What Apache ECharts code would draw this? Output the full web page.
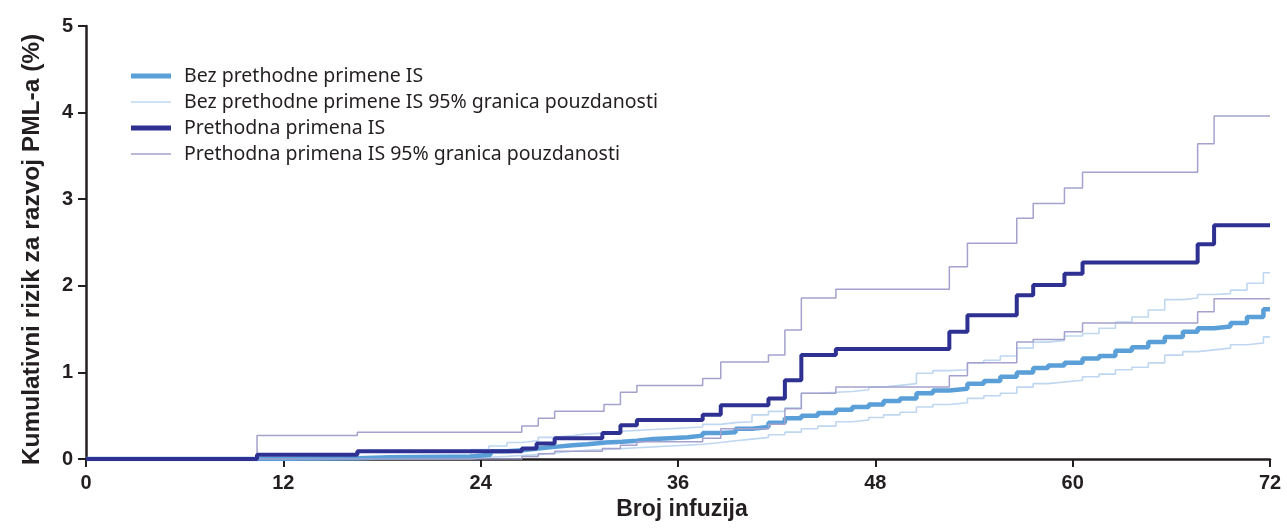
<!DOCTYPE html>
<html><head><meta charset="utf-8">
<script src="https://cdn.jsdelivr.net/npm/echarts@6/dist/echarts.min.js"></script>
<style>html,body{margin:0;padding:0;background:#fff}#c{width:1287px;height:529px}</style>
</head><body><div id="c"></div>
<script>
// x-axis ticks and y-axis ticks
const xTicks = [0, 12, 24, 36, 48, 60, 72];
const yTicks = [0, 1, 2, 3, 4, 5];
const legendNames = [
  'Bez prethodne primene IS',
  'Bez prethodne primene IS 95% granica pouzdanosti',
  'Prethodna primena IS',
  'Prethodna primena IS 95% granica pouzdanosti'
];
// Bez prethodne primene IS (step points: [infusion, cumulative risk %])
const bez = [[0,0],[10.4,0.01],[16.5,0.02],[18.5,0.03],[23.4,0.05],[24.6,0.09],[25.6,0.10],[26.5,0.12],[27.5,0.14],[28.5,0.16],[29.6,0.17],[30.5,0.19],[31.6,0.20],[32.6,0.21],[33.5,0.23],[34.5,0.24],[35.5,0.25],[36.6,0.27],[37.5,0.30],[38.6,0.31],[39.5,0.35],[40.5,0.37],[41.5,0.42],[42.5,0.47],[43.5,0.50],[44.5,0.53],[45.6,0.57],[46.6,0.60],[47.6,0.63],[48.5,0.67],[49.5,0.70],[50.5,0.76],[51.5,0.79],[52.5,0.81],[53.6,0.87],[54.6,0.90],[55.6,0.95],[56.6,1.00],[57.6,1.05],[58.5,1.08],[59.5,1.11],[60.6,1.16],[61.6,1.19],[62.6,1.25],[63.6,1.29],[64.6,1.35],[65.6,1.41],[66.7,1.47],[67.6,1.51],[68.6,1.53],[69.6,1.57],[70.6,1.64],[71.6,1.73],[72,1.73]];
const bezUpper = [[0,0],[10.4,0.02],[16.5,0.04],[23.4,0.11],[24.5,0.15],[25.6,0.19],[26.5,0.21],[27.5,0.25],[28.5,0.27],[29.6,0.29],[30.5,0.30],[31.6,0.32],[32.6,0.33],[33.5,0.34],[34.5,0.35],[35.5,0.36],[36.6,0.37],[37.5,0.40],[38.6,0.42],[39.5,0.43],[40.5,0.51],[41.5,0.55],[42.5,0.59],[43.5,0.76],[44.5,0.77],[45.6,0.78],[46.6,0.80],[47.6,0.83],[48.5,0.85],[49.5,0.87],[50.5,0.99],[51.5,1.02],[52.5,1.03],[53.6,1.11],[54.6,1.14],[55.6,1.19],[56.6,1.28],[57.6,1.35],[58.5,1.37],[59.5,1.42],[60.6,1.45],[61.6,1.51],[62.6,1.58],[63.6,1.64],[64.6,1.72],[65.6,1.84],[66.7,1.86],[67.6,1.90],[68.6,1.91],[69.6,1.95],[70.6,2.03],[71.6,2.15],[72,2.15]];
const bezLower = [[0,0],[23.4,0.02],[24.5,0.03],[25.6,0.04],[26.5,0.05],[27.5,0.07],[28.5,0.09],[29.6,0.10],[30.5,0.11],[31.6,0.12],[32.6,0.13],[33.5,0.14],[34.5,0.15],[35.5,0.16],[36.6,0.17],[37.5,0.19],[38.6,0.21],[39.5,0.23],[40.5,0.25],[41.5,0.28],[42.5,0.31],[43.5,0.35],[44.5,0.38],[45.6,0.43],[46.6,0.45],[47.6,0.48],[48.5,0.51],[49.5,0.54],[50.5,0.60],[51.5,0.63],[52.5,0.65],[53.6,0.70],[54.6,0.73],[55.6,0.76],[56.6,0.83],[57.6,0.87],[58.5,0.89],[59.5,0.91],[60.6,0.95],[61.6,0.98],[62.6,1.03],[63.6,1.06],[64.6,1.11],[65.6,1.20],[66.7,1.24],[67.6,1.26],[68.6,1.28],[69.6,1.32],[70.6,1.34],[71.6,1.41],[72,1.41]];
// Prethodna primena IS
const pre = [[0,0],[10.4,0.05],[16.5,0.09],[26.5,0.12],[27.4,0.18],[28.5,0.24],[31.4,0.30],[32.5,0.39],[33.5,0.45],[37.5,0.51],[38.6,0.62],[41.5,0.70],[42.5,0.91],[43.5,1.20],[45.6,1.27],[52.5,1.47],[53.6,1.66],[56.6,1.89],[57.6,2.01],[59.5,2.14],[60.6,2.27],[67.6,2.48],[68.6,2.70],[72,2.70]];
const preUpper = [[0,0],[10.4,0.27],[16.5,0.31],[26.5,0.38],[27.5,0.47],[28.5,0.55],[31.5,0.63],[32.5,0.77],[33.5,0.85],[37.5,0.93],[38.6,1.12],[41.5,1.20],[42.5,1.49],[43.5,1.86],[45.6,1.96],[52.5,2.22],[53.6,2.49],[56.6,2.78],[57.6,2.95],[59.5,3.13],[60.6,3.31],[67.6,3.64],[68.6,3.96],[72,3.96]];
const preLower = [[0,0],[26.5,0.03],[27.5,0.06],[28.5,0.09],[31.4,0.12],[32.5,0.16],[33.5,0.20],[37.5,0.24],[38.6,0.35],[41.5,0.40],[42.5,0.58],[43.5,0.76],[45.6,0.83],[52.5,0.96],[53.6,1.11],[56.6,1.35],[57.6,1.38],[59.5,1.47],[60.6,1.57],[67.6,1.70],[68.6,1.85],[72,1.85]];

const cLight = '#bfd7f0', cBez = '#5a9fd8', cPre = '#2e3192', cPreCI = '#a4a2cd';
const ink = '#231f20';
function line(name, data, color, width, z) {
  return { name, type: 'line', step: 'end', data, symbol: 'none', showSymbol: false,
    lineStyle: { color, width }, itemStyle: { color }, z, animation: false };
}
const thickIcon = 'path://M0,0H40V5H0Z';
const thinIcon = 'path://M0,0H40V1.6H0Z';
const chart = echarts.init(document.getElementById('c'), null, { renderer: 'canvas' });
chart.setOption({
  animation: false,
  grid: { left: 86, right: 17, top: 26, bottom: 70, containLabel: false },
  legend: {
    data: [
      { name: legendNames[0], icon: thickIcon },
      { name: legendNames[1], icon: thinIcon },
      { name: legendNames[2], icon: thickIcon },
      { name: legendNames[3], icon: thinIcon }
    ],
    orient: 'vertical', left: 126, top: 60,
    itemWidth: 40, itemHeight: 14, itemGap: 4, symbolKeepAspect: true,
    textStyle: { fontFamily: 'Noto Sans', fontSize: 19.5, lineHeight: 22, color: ink, padding: [0, 0, 0, 8] },
    selectedMode: false
  },
  xAxis: {
    type: 'value', min: xTicks[0], max: xTicks[xTicks.length - 1], interval: 12,
    name: 'Broj infuzija', nameLocation: 'middle', nameGap: 39,
    nameTextStyle: { fontFamily: 'Liberation Sans', fontWeight: 'bold', fontSize: 23, color: ink, padding: [0, 0, 0, 8] },
    axisLine: { lineStyle: { color: ink, width: 2.5 } },
    axisTick: { show: true, length: 8, lineStyle: { color: ink, width: 2 } },
    axisLabel: { fontFamily: 'Liberation Sans', fontWeight: 'bold', fontSize: 20, color: ink, margin: 14 },
    splitLine: { show: false }
  },
  yAxis: {
    type: 'value', min: yTicks[0], max: yTicks[yTicks.length - 1], interval: 1,
    name: 'Kumulativni rizik za razvoj PML-a (%)', nameLocation: 'middle', nameGap: 41,
    nameTextStyle: { fontFamily: 'Liberation Sans', fontWeight: 'bold', fontSize: 24.5, color: ink, padding: [0, 14, 0, 0] },
    axisLine: { show: true, lineStyle: { color: ink, width: 2.5 } },
    axisTick: { show: true, length: 8, lineStyle: { color: ink, width: 2 } },
    axisLabel: { fontFamily: 'Liberation Sans', fontWeight: 'bold', fontSize: 20, color: ink, margin: 13 },
    splitLine: { show: false }
  },
  series: [
    line(legendNames[1], bezLower, cLight, 1.6, 2),
    line(legendNames[1], bezUpper, cLight, 1.6, 2),
    line(legendNames[0], bez, cBez, 4.5, 3),
    line(legendNames[3], preLower, cPreCI, 1.5, 4),
    line(legendNames[3], preUpper, cPreCI, 1.5, 4),
    line(legendNames[2], pre, cPre, 4, 5)
  ]
});
</script></body></html>
